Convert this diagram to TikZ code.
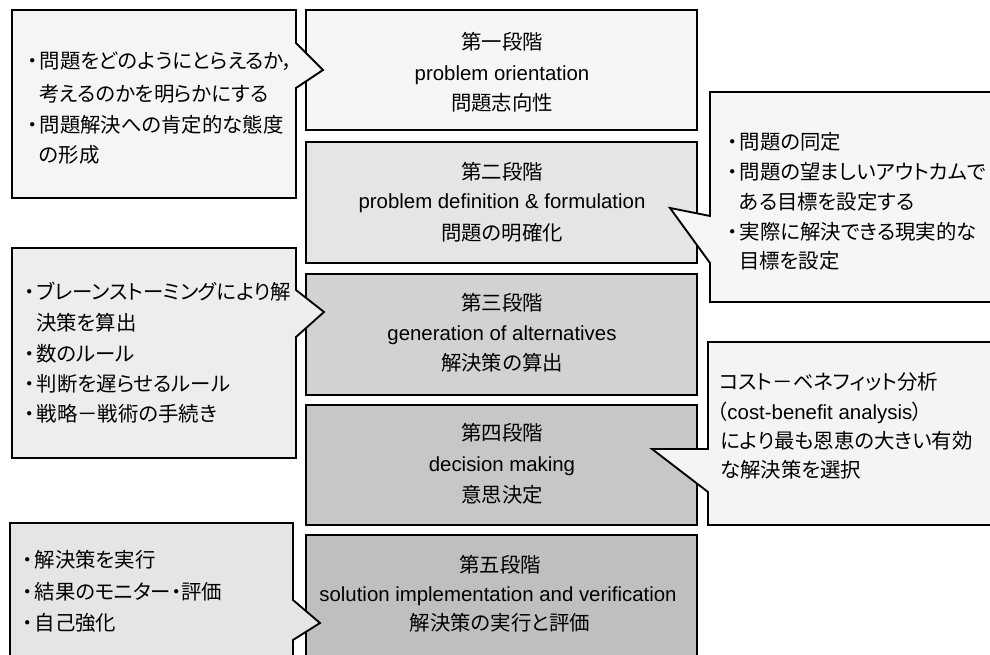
\documentclass[tikz,border=0pt]{standalone}
\usepackage{fontspec}
\setmainfont{Liberation Sans}
\newfontfamily\jp[RawFeature=+palt]{Noto Sans CJK JP}
\newcommand\fs{\fontsize{15.3pt}{18pt}\selectfont}
\newcommand\fsE{\fontsize{15.3pt}{18pt}\selectfont}
\newcommand\bu{\makebox[10pt][c]{・}}
\begin{document}
\begin{tikzpicture}[x=0.75pt,y=-0.75pt,
  stagebox/.style={draw=black,line width=1.4pt},
  callout/.style={draw=black,line width=1.4pt,line join=miter},
  ln/.style={anchor=west,inner sep=0pt,font=\fs\jp,text height=13.4pt,text depth=1.9pt},
  ct/.style={anchor=center,inner sep=0pt,font=\fs\jp,text height=13.4pt,text depth=1.9pt},
  en/.style={anchor=center,inner sep=0pt,font=\fsE,text height=13.4pt,text depth=1.9pt}]
\useasboundingbox (0,0) rectangle (990,655);
\clip (0,0) rectangle (990,655);
\fill[white] (0,0) rectangle (990,655);

% ---- stage boxes ----
\path[stagebox,fill=gray!7]  (306,10)  rectangle (697,130);
\path[stagebox,fill=gray!20] (306,142) rectangle (697,263);
\path[stagebox,fill=gray!35] (306,274) rectangle (697,395);
\path[stagebox,fill=gray!44] (306,405) rectangle (697,525);
\path[stagebox,fill=gray!50] (306,535) rectangle (697,665);

\node[ct] (s1a) at (502,42)  {第一段階};
\node[en] (s1b) at (502,73)  {problem orientation};
\node[ct] (s1c) at (502,103) {問題志向性};

\node[ct] (s2a) at (502,172) {第二段階};
\node[en] (s2b) at (502,201) {problem definition \& formulation};
\node[ct] (s2c) at (502,233) {問題の明確化};

\node[ct] (s3a) at (502,303) {第三段階};
\node[en] (s3b) at (502,333) {generation of alternatives};
\node[ct] (s3c) at (502,363) {解決策の算出};

\node[ct] (s4a) at (502,433) {第四段階};
\node[en] (s4b) at (502,464) {decision making};
\node[ct] (s4c) at (502,495) {意思決定};

\node[ct] (s5a) at (500,565) {第五段階};
\node[en] (s5b) at (498,594) {solution implementation and verification};
\node[ct] (s5c) at (500,623) {解決策の実行と評価};

% ---- callouts ----
\path[callout,fill=gray!8]
  (12,10) -- (296,10) -- (296,43) -- (323,70) -- (296,88) -- (296,198) -- (12,198) -- cycle;
\path[callout,fill=gray!7]
  (710,92) -- (1000,92) -- (1000,302) -- (710,302) -- (710,263) -- (670,208) -- (710,216) -- cycle;
\path[callout,fill=gray!14]
  (12,248) -- (296,248) -- (296,290) -- (324,312) -- (296,337) -- (296,458) -- (12,458) -- cycle;
\path[callout,fill=gray!9]
  (708,342) -- (1000,342) -- (1000,525) -- (708,525) -- (708,492) -- (652,449) -- (708,449) -- cycle;
\path[callout,fill=gray!20]
  (10,523) -- (293,523) -- (293,600) -- (320,623) -- (293,640) -- (293,670) -- (10,670) -- cycle;

% callout 1
\node[ln] (c1a) at (26,61)  {\bu 問題をどのようにとらえるか，};
\node[ln] (c1b) at (39,94)  {考えるのかを明らかにする};
\node[ln] (c1c) at (26,125) {\bu 問題解決への肯定的な態度};
\node[ln] (c1d) at (39,155) {の形成};

% callout 2
\node[ln] (c2a) at (726,142) {\bu 問題の同定};
\node[ln] (c2b) at (726,172) {\bu 問題の望ましいアウトカムで};
\node[ln] (c2c) at (739,202) {ある目標を設定する};
\node[ln] (c2d) at (726,232) {\bu 実際に解決できる現実的な};
\node[ln] (c2e) at (739,261) {目標を設定};

% callout 3
\node[ln] (c3a) at (23,292) {\bu ブレーンストーミングにより解};
\node[ln] (c3b) at (36,323) {決策を算出};
\node[ln] (c3c) at (23,354) {\bu 数のルール};
\node[ln] (c3d) at (23,384) {\bu 判断を遅らせるルール};
\node[ln] (c3e) at (23,414) {\bu 戦略－戦術の手続き};

% callout 4
\node[ln] (c4a) at (719,382) {コスト－ベネフィット分析};
\node[ln] (c4b) at (717,412) {（{\fontspec{Liberation Sans}cost-benefit analysis}）};
\node[ln] (c4c) at (720,441) {により最も恩恵の大きい有効};
\node[ln] (c4d) at (720,470) {な解決策を選択};

% callout 5
\node[ln] (c5a) at (21,560) {\bu 解決策を実行};
\node[ln] (c5b) at (21,592) {\bu 結果のモニター・評価};
\node[ln] (c5c) at (21,623) {\bu 自己強化};
\end{tikzpicture}
\end{document}
